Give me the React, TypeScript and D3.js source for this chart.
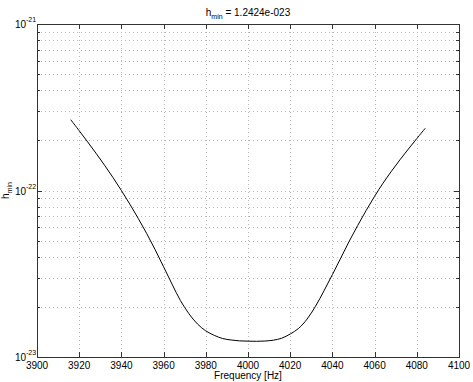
import React from "react";
import * as d3 from "d3";

const width = 473;
const height = 382;
const margin = { top: 24, right: 14, bottom: 25, left: 37 };

// frequency samples [Hz] and the read-off h_min values
const freqs = [
  3916, 3920, 3924, 3928, 3932, 3936, 3940, 3944, 3948, 3952, 3956, 3960, 3964, 3968,
  3972, 3976, 3980, 3984, 3988, 3992, 3996, 4000, 4004, 4008, 4012, 4016, 4020, 4024,
  4028, 4032, 4036, 4040, 4044, 4048, 4052, 4056, 4060, 4064, 4068, 4072, 4076, 4080, 4084,
];
const hmin = [
  2.661e-22, 2.286e-22, 1.959e-22, 1.671e-22, 1.419e-22, 1.197e-22, 1.0e-22, 8.28e-23,
  6.79e-23, 5.51e-23, 4.41e-23, 3.48e-23, 2.74e-23, 2.18e-23, 1.82e-23, 1.581e-23,
  1.435e-23, 1.349e-23, 1.291e-23, 1.265e-23, 1.25e-23, 1.245e-23, 1.2424e-23, 1.247e-23,
  1.262e-23, 1.297e-23, 1.374e-23, 1.486e-23, 1.69e-23, 2.018e-23, 2.495e-23, 3.126e-23,
  3.936e-23, 4.966e-23, 6.17e-23, 7.59e-23, 9.23e-23, 1.107e-22, 1.306e-22, 1.528e-22,
  1.774e-22, 2.051e-22, 2.366e-22,
];
const xTicks = [3900, 3920, 3940, 3960, 3980, 4000, 4020, 4040, 4060, 4080, 4100];
const yMajor = [1e-23, 1e-22, 1e-21];
const yExponents = ["-23", "-22", "-21"];

const font = "'Liberation Sans', Arial, Helvetica, sans-serif";

export default function App() {
  const x = d3.scaleLinear().domain([3900, 4100]).range([margin.left, width - margin.right]);
  const y = d3.scaleLog().domain([1e-23, 1e-21]).range([height - margin.bottom, margin.top]);
  const x0 = margin.left;
  const x1 = width - margin.right;
  const y0 = height - margin.bottom;
  const y1 = margin.top;

  const yAll = y.ticks();
  const yMinor = yAll.filter(v => !yMajor.some(m => Math.abs(m - v) / m < 1e-6));

  const line = d3
    .line<number>()
    .x((d, i) => x(freqs[i]))
    .y(d => y(d))
    .curve(d3.curveCatmullRom.alpha(0.5));

  const grid = "#b8b8b8";
  const cx = (x0 + x1) / 2;
  const px = (v: number) => Math.round(v) + 0.5;

  return (
    <svg width={width} height={height} style={{ position: "absolute", left: 0, top: 0, background: "#fff" }}>
      <rect x={0} y={0} width={width} height={height} fill="#fff" />
      {/* grid */}
      {xTicks.slice(1, -1).map(t => (
        <line key={"gx" + t} x1={px(x(t))} x2={px(x(t))} y1={y1} y2={y0}
          stroke={grid} strokeDasharray="1,3" />
      ))}
      {yAll.filter(v => v > 1e-23 * 1.0001 && v < 1e-21 * 0.9999).map(v => (
        <line key={"gy" + v} x1={x0} x2={x1} y1={px(y(v))} y2={px(y(v))}
          stroke={grid} strokeDasharray="1,3" />
      ))}
      {/* ticks */}
      {xTicks.map(t => (
        <g key={"tx" + t} stroke="#333">
          <line x1={px(x(t))} x2={px(x(t))} y1={y0} y2={y0 - 5} />
          <line x1={px(x(t))} x2={px(x(t))} y1={y1} y2={y1 + 5} />
        </g>
      ))}
      {yMajor.map(v => (
        <g key={"tyM" + v} stroke="#333">
          <line x1={x0} x2={x0 + 5} y1={px(y(v))} y2={px(y(v))} />
          <line x1={x1} x2={x1 - 5} y1={px(y(v))} y2={px(y(v))} />
        </g>
      ))}
      {yMinor.map(v => (
        <g key={"tym" + v} stroke="#333">
          <line x1={x0} x2={x0 + 3} y1={px(y(v))} y2={px(y(v))} />
          <line x1={x1} x2={x1 - 3} y1={px(y(v))} y2={px(y(v))} />
        </g>
      ))}
      {/* box */}
      <rect x={x0 + 0.5} y={y1 + 0.5} width={x1 - x0} height={y0 - y1} fill="none" stroke="#333" />
      {/* curve */}
      <path d={line(hmin) || ""} fill="none" stroke="#000" strokeWidth={1} />
      {/* x tick labels */}
      {xTicks.map(t => (
        <text key={"lx" + t} x={x(t)} y={y0 + 12} textAnchor="middle" fontFamily={font} fontSize={10} fill="#000">
          {t}
        </text>
      ))}
      {/* y tick labels */}
      {yMajor.map((v, i) => (
        <g key={"ly" + v} fontFamily={font} fill="#000">
          <text x={x0 - 11} y={y(v) + 4} textAnchor="end" fontSize={10} fill="#000">10</text>
          <text x={x0 - 11} y={y(v) - 2} fontSize={7} fill="#000">{yExponents[i]}</text>
        </g>
      ))}
      {/* title */}
      <text x={cx} y={16} textAnchor="middle" fontFamily={font} fontSize={10} fill="#000">
        h<tspan fontSize={7} dy={3} fill="#000">min</tspan>
        <tspan dy={-3} fill="#000"> = 1.2424e-023</tspan>
      </text>
      {/* x label */}
      <text x={cx} y={379} textAnchor="middle" fontFamily={font} fontSize={10} fill="#000">
        Frequency [Hz]
      </text>
      {/* y label */}
      <text transform={`translate(9, ${(y0 + y1) / 2}) rotate(-90)`} textAnchor="middle" fontFamily={font} fontSize={10} fill="#000">
        h<tspan fontSize={7} dy={3} fill="#000">min</tspan>
      </text>
    </svg>
  );
}
